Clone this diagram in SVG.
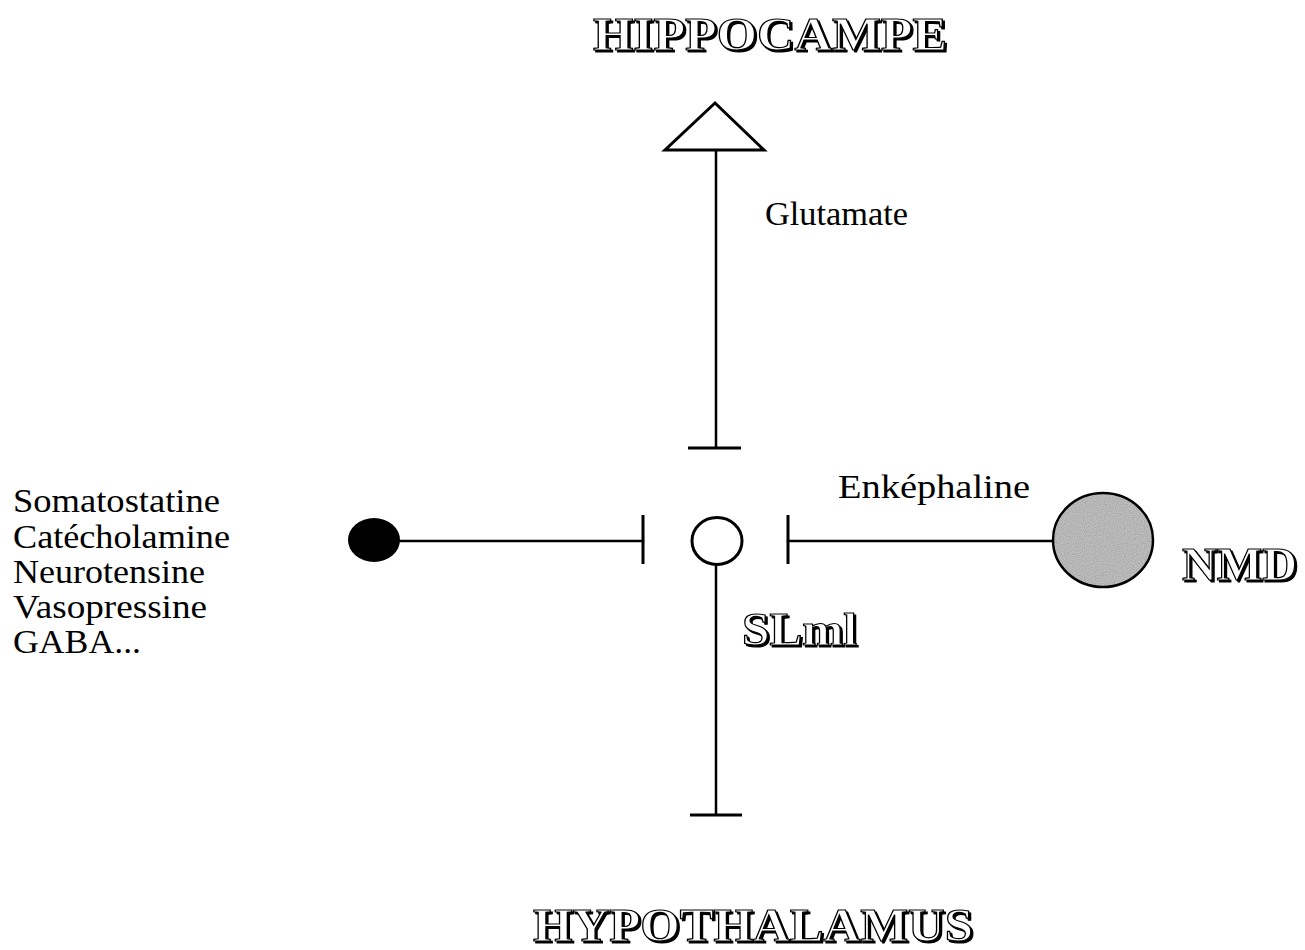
<svg xmlns="http://www.w3.org/2000/svg" width="1305" height="950" viewBox="0 0 1305 950">
<defs>
<style>
.line{stroke:#000;stroke-width:2.5;fill:none;stroke-linecap:square}
.bar{stroke:#000;stroke-width:3;fill:none}
.lbl{font-family:"Liberation Serif","Times New Roman",serif;font-size:33px;fill:#000}
.mid{font-size:33px}
.out{font-family:"Liberation Serif","Times New Roman",serif;font-weight:bold;font-size:46px;fill:#fff;stroke:#000;stroke-width:1.2;filter:url(#shadow)}
</style>
<filter id="shadow" x="-10%" y="-20%" width="130%" height="150%">
<feOffset in="SourceAlpha" dx="2" dy="2" result="off"/>
<feMerge><feMergeNode in="off"/><feMergeNode in="SourceGraphic"/></feMerge>
</filter>
<filter id="stipple" x="0" y="0" width="100%" height="100%">
<feTurbulence type="fractalNoise" baseFrequency="0.9" numOctaves="1" seed="3" result="n"/>
<feColorMatrix in="n" type="matrix" values="0 0 0 0 0.3  0 0 0 0 0.3  0 0 0 0 0.3  0 0 0 1.4 -0.4" result="dots"/>
<feComposite in="dots" in2="SourceGraphic" operator="in" result="d2"/>
<feMerge><feMergeNode in="SourceGraphic"/><feMergeNode in="d2"/></feMerge>
</filter>
</defs>
<rect width="1305" height="950" fill="#fff"/>

<g id="connectors">
<line class="line" x1="716" y1="150" x2="716" y2="447"/>
<line class="bar" x1="688" y1="448" x2="741" y2="448"/>
<line class="line" x1="400" y1="541" x2="643" y2="541"/>
<line class="bar" x1="643" y1="515" x2="643" y2="564"/>
<line class="line" x1="788" y1="541" x2="1053" y2="541"/>
<line class="bar" x1="788" y1="515" x2="788" y2="564"/>
<line class="line" x1="716" y1="564" x2="716" y2="814"/>
<line class="bar" x1="690" y1="815" x2="742" y2="815"/>
</g>

<g id="hippocampe">
<polygon points="715,103 665,150 764,150" fill="#fff" stroke="#000" stroke-width="3" stroke-linejoin="miter"/>
<text class="out" x="593" y="50" textLength="354" lengthAdjust="spacingAndGlyphs">HIPPOCAMPE</text>
</g>

<g id="glutamate-label">
<text class="lbl mid" x="765" y="225" textLength="143" lengthAdjust="spacingAndGlyphs">Glutamate</text>
</g>

<g id="slml">
<ellipse cx="717" cy="541" rx="25" ry="23.5" fill="#fff" stroke="#000" stroke-width="3"/>
<text class="out" x="742" y="645" textLength="115" lengthAdjust="spacingAndGlyphs">SLml</text>
</g>

<g id="afferents">
<ellipse cx="374" cy="540" rx="26" ry="22" fill="#000"/>
<text class="lbl" x="13" y="512" textLength="207" lengthAdjust="spacingAndGlyphs">Somatostatine</text>
<text class="lbl" x="13" y="548" textLength="217" lengthAdjust="spacingAndGlyphs">Catécholamine</text>
<text class="lbl" x="13" y="583" textLength="192" lengthAdjust="spacingAndGlyphs">Neurotensine</text>
<text class="lbl" x="13" y="618" textLength="194" lengthAdjust="spacingAndGlyphs">Vasopressine</text>
<text class="lbl" x="13" y="653" textLength="128" lengthAdjust="spacingAndGlyphs">GABA...</text>
</g>

<g id="nmd">
<ellipse cx="1103" cy="540" rx="50" ry="47" fill="#c2c2c2" filter="url(#stipple)"/>
<ellipse cx="1103" cy="540" rx="50" ry="47" fill="none" stroke="#000" stroke-width="2.5"/>
<text class="out" x="1182" y="580" textLength="115" lengthAdjust="spacingAndGlyphs">NMD</text>
</g>

<g id="enkephaline-label">
<text class="lbl mid" x="838" y="498" textLength="192" lengthAdjust="spacingAndGlyphs">Enképhaline</text>
</g>

<g id="hypothalamus">
<text class="out" x="533" y="941" textLength="440" lengthAdjust="spacingAndGlyphs">HYPOTHALAMUS</text>
</g>
</svg>
